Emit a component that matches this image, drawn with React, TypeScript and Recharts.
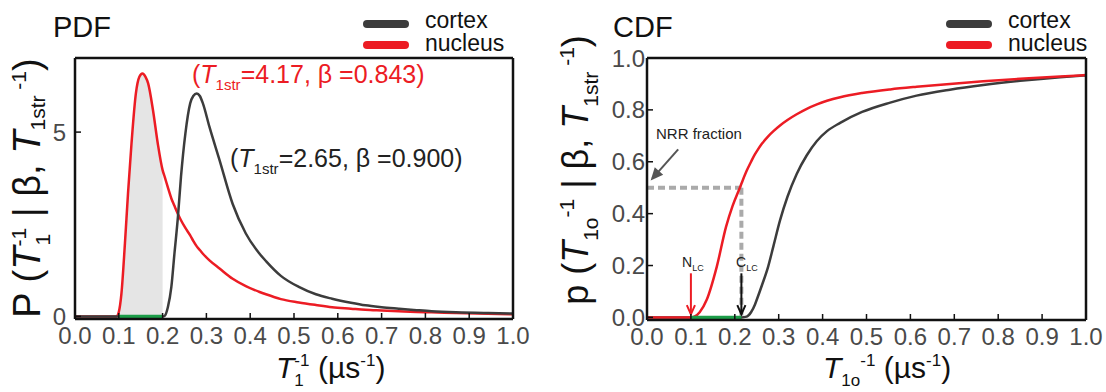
import React from 'react';
import { ComposedChart, Line, Area, XAxis, YAxis, ReferenceLine } from 'recharts';

const FONT = '"Liberation Sans", Arial, Helvetica, sans-serif';

// shared x ticks (µs^-1)
const xTicks = [0, 0.1, 0.2, 0.3, 0.4, 0.5, 0.6, 0.7, 0.8, 0.9, 1.0];

// PDF panel
const pdfX = [0, 0.05, 0.095, 0.1, 0.106, 0.114, 0.121, 0.129, 0.139, 0.147, 0.154, 0.161, 0.167, 0.178, 0.189, 0.2, 0.205, 0.212, 0.22, 0.227, 0.235, 0.242, 0.252, 0.263, 0.27, 0.278, 0.285, 0.292, 0.307, 0.33, 0.36, 0.39, 0.42, 0.436, 0.47, 0.511, 0.55, 0.587, 0.63, 0.663, 0.7, 0.739, 0.78, 0.814, 0.87, 0.943, 1.0];
const pdfNucleus = [0, 0, 0, 0.12, 0.62, 1.98, 3.33, 4.69, 6.05, 6.5, 6.59, 6.5, 6.32, 5.6, 4.69, 3.97, 3.78, 3.5, 3.2, 3.0, 2.78, 2.61, 2.4, 2.2, 2.05, 1.9, 1.8, 1.7, 1.52, 1.3, 1.02, 0.82, 0.67, 0.6, 0.47, 0.38, 0.31, 0.25, 0.21, 0.18, 0.16, 0.14, 0.12, 0.11, 0.09, 0.07, 0.06];
const pdfCortex = [0, 0, 0, 0, 0, 0, 0, 0, 0, 0, 0, 0, 0, 0, 0, 0, 0.02, 0.25, 0.8, 1.7, 2.7, 3.79, 4.96, 5.78, 5.98, 6.05, 5.98, 5.78, 5.14, 4.24, 3.05, 2.25, 1.72, 1.5, 1.1, 0.8, 0.6, 0.48, 0.37, 0.3, 0.25, 0.21, 0.17, 0.14, 0.11, 0.09, 0.08];
const pdfYTicks = [0, 5];
const shadeRange = [0.1, 0.2];

// CDF panel
const cdfX = [0, 0.05, 0.1, 0.109, 0.12, 0.136, 0.159, 0.18, 0.195, 0.212, 0.215, 0.227, 0.237, 0.246, 0.25, 0.262, 0.276, 0.288, 0.303, 0.32, 0.341, 0.364, 0.387, 0.41, 0.44, 0.49, 0.554, 0.614, 0.69, 0.766, 0.85, 0.941, 1.0];
const cdfNucleus = [0, 0, 0, 0.004, 0.02, 0.068, 0.196, 0.349, 0.43, 0.502, 0.515, 0.565, 0.6, 0.629, 0.64, 0.67, 0.698, 0.718, 0.74, 0.761, 0.783, 0.804, 0.821, 0.835, 0.849, 0.865, 0.879, 0.889, 0.9, 0.91, 0.92, 0.929, 0.934];
const cdfCortex = [0, 0, 0, 0, 0, 0, 0, 0, 0, 0, 0, 0.003, 0.02, 0.05, 0.068, 0.125, 0.196, 0.275, 0.374, 0.465, 0.553, 0.625, 0.68, 0.718, 0.75, 0.792, 0.828, 0.855, 0.878, 0.896, 0.912, 0.926, 0.933];
const cdfYTicks = [0, 0.2, 0.4, 0.6, 0.8, 1.0];
const lcRange = [0.1, 0.215]; // N_LC, C_LC
const nrrFraction = 0.5;

const BLACK = '#3c3c3c';
const RED = '#ec1c24';
const GREEN = '#1c9d48';

const pdfData = pdfX.map((x, i) => ({
  x,
  nucleus: pdfNucleus[i],
  cortex: pdfCortex[i],
  shade: x >= shadeRange[0] && x <= shadeRange[1] ? pdfNucleus[i] : null,
  green: x >= shadeRange[0] && x <= shadeRange[1] ? 0 : null,
}));

const cdfData = cdfX.map((x, i) => ({
  x,
  nucleus: cdfNucleus[i],
  cortex: cdfCortex[i],
  green: x >= lcRange[0] && x <= lcRange[1] ? 0 : null,
}));

const tickStyle = { fontSize: 24, fill: '#4a4a4a', fontFamily: FONT };
const frame = { stroke: '#111', strokeWidth: 2.5 };
const tickLn = { stroke: '#111', strokeWidth: 1.5 };

// arrow drawn on a reference segment
const arrow = (color: string, w: number, filled: boolean) => (p: any) => {
  const { x1, y1, x2, y2 } = p;
  const a = Math.atan2(y2 - y1, x2 - x1);
  const len = 10;
  const ax = x2 - len * Math.cos(a - 0.42);
  const ay = y2 - len * Math.sin(a - 0.42);
  const bx = x2 - len * Math.cos(a + 0.42);
  const by = y2 - len * Math.sin(a + 0.42);
  return (
    <g>
      <line x1={x1} y1={y1} x2={x2} y2={y2} stroke={color} strokeWidth={w} />
      <path d={`M${ax},${ay} L${x2},${y2} L${bx},${by}${filled ? ' Z' : ''}`} fill={filled ? color : 'none'} stroke={color} strokeWidth={w} />
    </g>
  );
};

function axes(yDomain: number[], yTicks: number[], yFmt: (v: number) => string, yMargin: number) {
  return [
    <XAxis key="xb" dataKey="x" type="number" domain={[0, 1]} ticks={xTicks} interval={0} tickFormatter={(v: number) => v.toFixed(1)}
      height={1} tickSize={-6} tickMargin={14} tick={tickStyle} axisLine={frame} tickLine={tickLn} allowDataOverflow />,
    <XAxis key="xt" xAxisId="top" orientation="top" dataKey="x" type="number" domain={[0, 1]} ticks={xTicks} interval={0}
      height={1} tickSize={-6} tick={false} axisLine={frame} tickLine={tickLn} allowDataOverflow />,
    <YAxis key="yl" type="number" domain={yDomain} ticks={yTicks} interval={0} tickFormatter={yFmt}
      width={1} tickSize={-6} tickMargin={yMargin} tick={tickStyle} axisLine={frame} tickLine={tickLn} allowDataOverflow />,
    <YAxis key="yr" yAxisId="right" orientation="right" type="number" domain={yDomain} ticks={yTicks} interval={0}
      width={1} tickSize={-6} tick={false} axisLine={frame} tickLine={tickLn} allowDataOverflow />,
  ];
}

function PdfChart() {
  return (
    <ComposedChart width={553} height={392} data={pdfData} margin={{ top: 57, right: 39, bottom: 72, left: 74 }}>
      {axes([-0.07, 7.01], pdfYTicks, (v) => String(v), 15)}
      <Area dataKey="shade" type="monotone" baseValue={0} fill="#e5e5e5" fillOpacity={1} stroke="none" isAnimationActive={false} />
      <Line dataKey="nucleus" type="monotone" stroke={RED} strokeWidth={2.5} dot={false} isAnimationActive={false} />
      <Line dataKey="cortex" type="monotone" stroke={BLACK} strokeWidth={2.5} dot={false} isAnimationActive={false} />
      <Line dataKey="green" type="linear" stroke={GREEN} strokeWidth={3.5} dot={false} isAnimationActive={false} />
    </ComposedChart>
  );
}

function CdfChart() {
  return (
    <ComposedChart width={553} height={392} data={cdfData} margin={{ top: 57, right: 19, bottom: 71, left: 93 }}>
      {axes([-0.01, 1], cdfYTicks, (v) => v.toFixed(1), 8)}
      <ReferenceLine segment={[{ x: 0, y: nrrFraction }, { x: lcRange[1], y: nrrFraction }]} stroke="#aaa" strokeWidth={4} strokeDasharray="7 4" />
      <ReferenceLine segment={[{ x: lcRange[1], y: nrrFraction }, { x: lcRange[1], y: 0 }]} stroke="#aaa" strokeWidth={4} strokeDasharray="7 4" />
      <Line dataKey="cortex" type="monotone" stroke={BLACK} strokeWidth={2.5} dot={false} isAnimationActive={false} />
      <Line dataKey="nucleus" type="monotone" stroke={RED} strokeWidth={2.5} dot={false} isAnimationActive={false} />
      <Line dataKey="green" type="linear" stroke={GREEN} strokeWidth={3.5} dot={false} isAnimationActive={false} />
      <ReferenceLine segment={[{ x: 0.071, y: 0.648 }, { x: 0.012, y: 0.535 }]} shape={arrow('#555', 2, true)} />
      <ReferenceLine segment={[{ x: lcRange[0], y: 0.17 }, { x: lcRange[0], y: 0.012 }]} shape={arrow(RED, 2, false)} />
      <ReferenceLine segment={[{ x: lcRange[1], y: 0.17 }, { x: lcRange[1], y: 0.012 }]} shape={arrow('#111', 2, false)} />
    </ComposedChart>
  );
}

function Legend({ x }: { x: number }) {
  return (
    <g>
      <line x1={x + 4} y1={24} x2={x + 42} y2={24} stroke={BLACK} strokeWidth={8} strokeLinecap="round" />
      <line x1={x + 4} y1={45} x2={x + 42} y2={45} stroke={RED} strokeWidth={8} strokeLinecap="round" />
      <text x={x + 62} y={28} fontSize={23} fill="#111">cortex</text>
      <text x={x + 62} y={51} fontSize={23} fill="#111">nucleus</text>
    </g>
  );
}

function Overlay() {
  return (
    <svg width={1106} height={392} style={{ position: 'absolute', left: 0, top: 0, pointerEvents: 'none' }} fontFamily={FONT}>
      <text x={53} y={37} fontSize={29} fill="#111">PDF</text>
      <text x={613} y={37} fontSize={29} fill="#111">CDF</text>
      <Legend x={363} />
      <Legend x={946} />

      <text x={192} y={83} fontSize={25} fill={RED}>
        (<tspan fontStyle="italic">T</tspan><tspan fontSize={15} dy={7}>1str</tspan><tspan dy={-7}>=4.17, β =0.843)</tspan>
      </text>
      <text x={230} y={167} fontSize={25} fill="#222">
        (<tspan fontStyle="italic">T</tspan><tspan fontSize={15} dy={7}>1str</tspan><tspan dy={-7}>=2.65, β =0.900)</tspan>
      </text>

      <text x={656} y={139} fontSize={15} fill="#222">NRR fraction</text>
      <text x={682} y={267} fontSize={14} fill="#222">N<tspan fontSize={9} dy={4}>LC</tspan></text>
      <text x={736} y={267} fontSize={14} fill="#222">C<tspan fontSize={9} dy={4}>LC</tspan></text>

      <text x={276} y={378} fontSize={30} fill="#111">
        <tspan fontStyle="italic">T</tspan><tspan fontSize={17} dy={-12}>-1</tspan><tspan fontSize={17} dx={-14} dy={20}>1</tspan>
        <tspan dy={-8} dx={6}> (µs</tspan><tspan fontSize={17} dy={-12}>-1</tspan><tspan dy={12}>)</tspan>
      </text>
      <text x={823} y={378} fontSize={30} fill="#111">
        <tspan fontStyle="italic">T</tspan><tspan fontSize={17} dy={8}>1o</tspan><tspan fontSize={17} dy={-20}>-1</tspan>
        <tspan dy={12}> (µs</tspan><tspan fontSize={17} dy={-12}>-1</tspan><tspan dy={12}>)</tspan>
      </text>

      <text transform="translate(40,188) rotate(-90)" textAnchor="middle" fontSize={38} fill="#111">
        P (<tspan fontStyle="italic">T</tspan><tspan fontSize={21} dy={-14}>-1</tspan><tspan fontSize={21} dx={-16} dy={24}>1</tspan>
        <tspan dy={-10} dx={6}> | β, </tspan><tspan fontStyle="italic">T</tspan><tspan fontSize={21} dy={5}>1str</tspan>
        <tspan fontSize={21} dy={-19}> -1</tspan><tspan dy={14}>)</tspan>
      </text>
      <text transform="translate(588,170) rotate(-90)" textAnchor="middle" fontSize={36} fill="#111">
        p (<tspan fontStyle="italic">T</tspan><tspan fontSize={21} dy={10}>1o</tspan><tspan fontSize={21} dy={-24}>-1</tspan>
        <tspan dy={14}> | β, </tspan><tspan fontStyle="italic">T</tspan><tspan fontSize={21} dy={10}>1str</tspan>
        <tspan fontSize={21} dy={-24}> -1</tspan><tspan dy={14}>)</tspan>
      </text>
    </svg>
  );
}

export default function App() {
  return (
    <div style={{ position: 'absolute', left: 0, top: 0, width: 1106, height: 392, background: '#fff', fontFamily: FONT }}>
      <div style={{ position: 'absolute', left: 0, top: 0 }}>
        <PdfChart />
      </div>
      <div style={{ position: 'absolute', left: 553, top: 0 }}>
        <CdfChart />
      </div>
      <Overlay />
    </div>
  );
}
